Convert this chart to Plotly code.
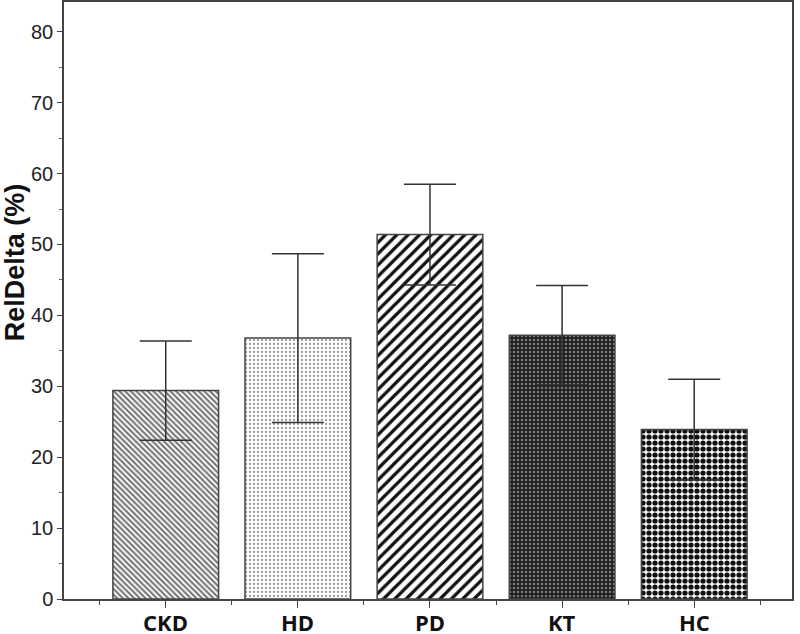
import plotly.graph_objects as go

categories = ["CKD", "HD", "PD", "KT", "HC"]
means = [29.4, 36.8, 51.4, 37.2, 23.9]
errors = [7.0, 11.9, 7.1, 7.0, 7.1]
y_title = "RelDelta (%)"

pattern_shapes = ["\\", ".", "/", ".", "."]
pattern_fg = ["#666666", "#9a9a9a", "#111111", "#7a7a7a", "#111111"]
pattern_bg = ["#f4f4f4", "#ffffff", "#ffffff", "#202020", "#ffffff"]
pattern_size = [4, 4, 8, 4, 6]
pattern_solid = [0.45, 0.25, 0.4, 0.3, 0.6]

xpos = list(range(len(categories)))

fig = go.Figure()
for i in range(len(categories)):
    fig.add_trace(go.Bar(
        x=[xpos[i]],
        y=[means[i]],
        width=0.8,
        marker=dict(
            color=pattern_bg[i],
            line=dict(color="#444444", width=1.5),
            pattern=dict(
                shape=pattern_shapes[i],
                fgcolor=pattern_fg[i],
                bgcolor=pattern_bg[i],
                size=pattern_size[i],
                solidity=pattern_solid[i],
                fillmode="replace",
            ),
        ),
        error_y=dict(type="data", array=[errors[i]], visible=True,
                     color="#333333", thickness=1.5, width=26),
        showlegend=False,
    ))

fig.update_layout(
    width=800, height=634,
    margin=dict(l=64, r=8, t=2, b=35, autoexpand=False),
    paper_bgcolor="white",
    plot_bgcolor="white",
    barmode="overlay",
)

fig.update_xaxes(
    range=[-0.77, 4.74],
    tickmode="array",
    tickvals=xpos,
    ticktext=categories,
    showticklabels=False,
    ticks="outside", ticklen=7, tickwidth=1.2, tickcolor="#444",
    automargin=False,
    showline=True, linecolor="#444", linewidth=1.5,
    mirror=True,
    showgrid=False, zeroline=False,
    minor=dict(ticks="outside", ticklen=4, tickwidth=1.2, tickcolor="#444",
               tickmode="linear", tick0=0.5, dtick=1, showgrid=False),
)

fig.update_yaxes(
    range=[0, 84.2],
    tickmode="linear", tick0=0, dtick=10,
    ticks="outside", ticklen=5, tickwidth=1.2, tickcolor="#444",
    tickfont=dict(family="Arial", size=20, color="#222"),
    automargin=False,
    showline=True, linecolor="#444", linewidth=1.5,
    mirror=True,
    showgrid=False, zeroline=False,
    minor=dict(ticks="outside", ticklen=3, tickwidth=1.0, tickcolor="#666",
               tickmode="linear", tick0=5, dtick=10, showgrid=False),
)

for i, cat in enumerate(categories):
    fig.add_annotation(
        text=cat, x=xpos[i], xref="x",
        y=-0.038, yref="paper", xanchor="center", yanchor="middle",
        height=24, borderpad=0,
        showarrow=False,
        font=dict(family="Open Sans", size=22, color="#111", weight="bold"),
    )

fig.add_annotation(
    text=y_title, textangle=-90,
    xref="paper", yref="paper",
    x=-0.068, y=0.565, xanchor="center", yanchor="middle",
    borderpad=0,
    showarrow=False,
    font=dict(family="Arial", size=27, color="#111", weight="bold"),
)

fig.write_html("out.html",
               config={"displayModeBar": False},
               post_script="document.body.style.margin='0';document.body.style.overflow='hidden';")
